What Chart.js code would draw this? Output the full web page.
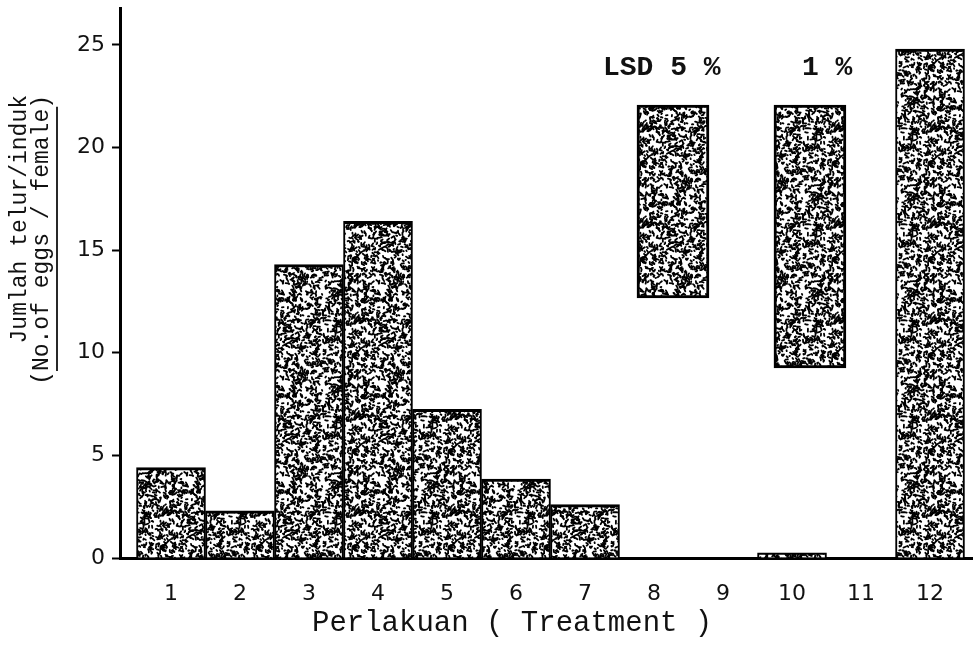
<!DOCTYPE html>
<html><head><meta charset="utf-8">
<script src="https://cdn.jsdelivr.net/npm/chart.js@4.4.1/dist/chart.umd.min.js"></script>
<style>html,body{margin:0;padding:0;background:#fff;}#wrap{width:973px;height:647px;}</style>
</head><body><div id="wrap"><canvas id="c" width="973" height="647"></canvas></div>
<script>
// ---- data ----
const treatments = ['1','2','3','4','5','6','7','8','9','10','11','12'];
const treatmentPos = [1,2,3,4,5,6,7,8,9,10,11,12];
const eggsPerFemale = [4.4, 2.3, 14.3, 16.4, 7.25, 3.85, 2.6, 0, 0, 0.25, 0, 24.8];
const lsdLabels = ['LSD 5 %', '1 %'];
const lsdPos = [8.275, 10.26];
const lsdLow = [12.67, 9.26];
const lsdHigh = [22.07, 22.07];
const yTicks = [0, 5, 10, 15, 20, 25];
const yTitle = ['Jumlah telur/induk', '(No.of eggs / female)'];
const xTitle = 'Perlakuan ( Treatment )';

// ---- stipple fill style ----
function makeStipple(ctx){
  const S = 96, off = document.createElement('canvas');
  off.width = off.height = S;
  const g = off.getContext('2d');
  g.fillStyle = '#fff'; g.fillRect(0,0,S,S);
  g.strokeStyle = '#000'; g.lineWidth = 1.8; g.lineCap = 'round';
  let s = 98765;
  const r = () => { s = (s * 1103515245 + 12345) & 0x7fffffff; return s / 0x7fffffff; };
  for (let i = 0; i < 900; i++) {
    const x = r()*S, y = r()*S, a = r()*Math.PI*2, l = 0.5 + r()*2.6;
    const a2 = a + (r()-0.5)*2.4, bend = r() < 0.45;
    for (const dx of [-S,0,S]) for (const dy of [-S,0,S]) {
      g.beginPath();
      g.moveTo(x+dx, y+dy);
      const mx = x+dx+Math.cos(a)*l, my = y+dy+Math.sin(a)*l;
      g.lineTo(mx, my);
      if (bend) g.lineTo(mx+Math.cos(a2)*l*0.8, my+Math.sin(a2)*l*0.8);
      g.stroke();
    }
  }
  return ctx.createPattern(off, 'repeat');
}

const canvas = document.getElementById('c');
const ctx = canvas.getContext('2d');
const stipple = makeStipple(ctx);

const MONO = '"Liberation Mono", "DejaVu Sans Mono", monospace';
const SANS = '"DejaVu Sans", sans-serif';

const textPlugin = {
  id: 'texts',
  afterDraw(chart){
    const c = chart.ctx;
    c.save();
    c.fillStyle = '#111';
    c.strokeStyle = '#111';
    // y-axis title (rotated, two lines, second underlined)
    c.font = '23px ' + MONO;
    c.rotate(-Math.PI/2);
    c.textAlign = 'right';
    c.textBaseline = 'middle';
    const endU = -95;
    c.fillText(yTitle[0], endU, 20);
    c.fillText(yTitle[1], endU, 42);
    const w = c.measureText(yTitle[1]).width;
    const cw = c.measureText('(').width;
    c.lineWidth = 1.8;
    c.beginPath();
    c.moveTo(endU - w + cw, 57);
    c.lineTo(endU - cw + 2, 57);
    c.stroke();
    c.setTransform(1,0,0,1,0,0);
    // x-axis title
    c.font = '29px ' + MONO;
    c.textAlign = 'left';
    c.textBaseline = 'alphabetic';
    c.fillText(xTitle, 312, 631);
    // LSD labels above the LSD bars
    c.font = 'bold 28px ' + MONO;
    const meta = chart.getDatasetMeta(1);
    const dx = [-70, -8];
    meta.data.forEach((el, i) => {
      c.fillText(lsdLabels[i], el.x + dx[i], el.y - 30);
    });
    c.restore();
  }
};

new Chart(ctx, {
  type: 'bar',
  data: {
    datasets: [{
      label: 'eggs',
      data: treatmentPos.map((x, i) => ({x, y: eggsPerFemale[i]})),
      backgroundColor: stipple,
      borderColor: '#000',
      borderWidth: {top: 3, left: 2, right: 2, bottom: 0},
      barPercentage: 1.0,
      categoryPercentage: 1.0,
      grouped: false,
      xAxisID: 'x'
    }, {
      label: 'LSD',
      data: lsdPos.map((x, i) => ({x, y: [lsdLow[i], lsdHigh[i]]})),
      backgroundColor: stipple,
      borderColor: '#000',
      borderWidth: 3,
      borderSkipped: false,
      barThickness: 72,
      grouped: false,
      xAxisID: 'x2'
    }]
  },
  options: {
    responsive: false,
    animation: false,
    layout: {padding: {top: 8, left: 0, right: 0, bottom: 0}},
    plugins: {legend: {display: false}, tooltip: {enabled: false}},
    scales: {
      x: {
        type: 'linear',
        offset: false,
        min: 0.2609, max: 12.623,
        afterBuildTicks: s => { s.ticks = treatmentPos.map(v => ({value: v})); },
        afterFit: s => { s.height = 89; s.paddingLeft = 0; s.paddingRight = 0; },
        ticks: {
          autoSkip: false, maxRotation: 0,
          callback: (v) => treatments[treatmentPos.indexOf(v)],
          font: {family: SANS, size: 22}, color: '#111', padding: 15
        },
        grid: {display: false, offset: false},
        border: {display: true, color: '#000', width: 3}
      },
      x2: {
        type: 'linear', display: false, offset: false,
        min: 0.2609, max: 12.623
      },
      y: {
        type: 'linear',
        min: 0, max: 26.8,
        afterBuildTicks: s => { s.ticks = yTicks.map(v => ({value: v})); },
        afterFit: s => { s.width = 120; s.paddingTop = 0; s.paddingBottom = 0; },
        ticks: {font: {family: SANS, size: 22}, color: '#111', padding: 7},
        grid: {display: true, drawOnChartArea: false, drawTicks: true, tickLength: 8, tickWidth: 2, tickColor: '#000'},
        border: {display: true, color: '#000', width: 3}
      }
    }
  },
  plugins: [textPlugin]
});
</script></body></html>
